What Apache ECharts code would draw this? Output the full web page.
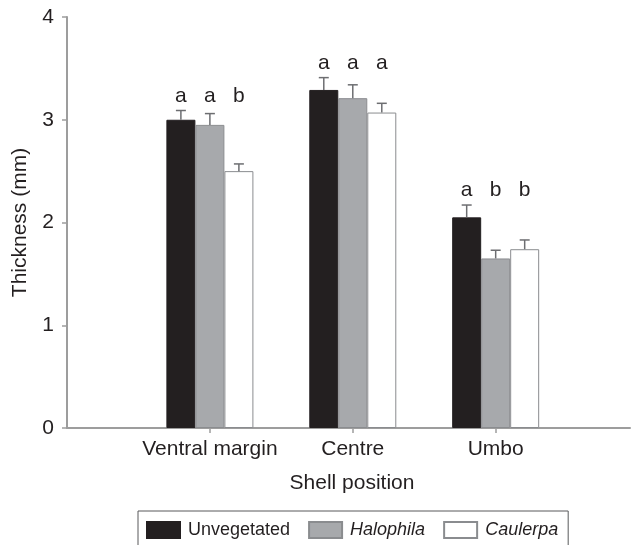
<!DOCTYPE html>
<html>
<head>
<meta charset="utf-8">
<script src="https://cdn.jsdelivr.net/npm/echarts@6/dist/echarts.min.js"></script>
<style>
  html, body { margin: 0; padding: 0; background: #ffffff; }
  #chart { width: 635px; height: 545px; }
</style>
</head>
<body>
<div id="chart"></div>
<script>
// Shell thickness by position and habitat (mean + SE)
const categories = ['Ventral margin', 'Centre', 'Umbo'];
const seriesNames = ['Unvegetated', 'Halophila', 'Caulerpa'];
const italicNames = ['Halophila', 'Caulerpa'];

const unvegetated   = [3.00, 3.29, 2.05];
const unvegetatedSE = [0.09, 0.12, 0.12];
const halophila     = [2.95, 3.21, 1.65];
const halophilaSE   = [0.11, 0.13, 0.08];
const caulerpa      = [2.50, 3.07, 1.74];
const caulerpaSE    = [0.07, 0.09, 0.09];

// Significance letters per bar
const unvegetatedLetters = ['a', 'a', 'a'];
const halophilaLetters   = ['a', 'a', 'b'];
const caulerpaLetters    = ['b', 'a', 'b'];

const yTicks = [0, 1, 2, 3, 4];

const means   = [unvegetated, halophila, caulerpa];
const errors  = [unvegetatedSE, halophilaSE, caulerpaSE];
const letters = [unvegetatedLetters, halophilaLetters, caulerpaLetters];

const FONT = "'Liberation Sans', Arial, Helvetica, sans-serif";
const TEXT = '#231f20';
const AXIS = '#9d9d9d';
const BAR_W = 29;

const fills   = ['#231f20', '#a7a9ac', '#ffffff'];
const borders = ['#231f20', '#8a8c8f', '#8a8c8f'];

const chart = echarts.init(document.getElementById('chart'), null, { renderer: 'canvas' });

const barSeries = seriesNames.map((name, s) => ({
  name: name,
  type: 'bar',
  barWidth: BAR_W,
  barGap: '0%',
  itemStyle: { color: fills[s], borderColor: borders[s], borderWidth: 1 },
  data: means[s].map((v, i) => [i + 1, v]),
  z: 2
}));

// one record per bar: [position, seriesIndex, mean, se, groupTop, letter]
const errData = [];
categories.forEach((c, i) => {
  const groupTop = Math.max(...means.map((m, s) => m[i] + errors[s][i]));
  means.forEach((m, s) => {
    errData.push([i + 1, s, m[i], errors[s][i], groupTop, letters[s][i]]);
  });
});

const errorSeries = {
  type: 'custom',
  silent: true,
  clip: false,
  encode: { x: 0, y: 2 },
  z: 5,
  data: errData,
  renderItem: function (params, api) {
    const x = api.value(0);
    const s = api.value(1);
    const mean = api.value(2);
    const se = api.value(3);
    const top = api.value(4);
    const letter = errData[params.dataIndex][5];
    const base = api.coord([x, mean]);
    const hi = api.coord([x, mean + se]);
    const gt = api.coord([x, top]);
    const cx = base[0] + (s - 1) * BAR_W;
    const style = { stroke: '#6d6e71', lineWidth: 1.5 };
    return {
      type: 'group',
      children: [
        { type: 'line', shape: { x1: cx, y1: base[1], x2: cx, y2: hi[1] }, style: style },
        { type: 'line', shape: { x1: cx - 5, y1: hi[1], x2: cx + 5, y2: hi[1] }, style: style },
        {
          type: 'text',
          style: {
            text: letter, x: cx, y: gt[1] - 4,
            align: 'center', verticalAlign: 'bottom',
            fontSize: 21, fontFamily: FONT, fill: TEXT
          }
        }
      ]
    };
  }
};

const option = {
  backgroundColor: '#ffffff',
  animation: false,
  grid: { left: 67, right: 5, top: 17, bottom: 117, containLabel: false },
  legend: {
    data: seriesNames,
    icon: 'rect',
    left: 138,
    top: 511,
    orient: 'horizontal',
    padding: [10, 10, 10, 8],
    itemWidth: 33,
    itemHeight: 16,
    itemGap: 18,
    borderColor: '#58595b',
    borderWidth: 1,
    borderRadius: 0,
    selectedMode: false,
    formatter: function (name) {
      return italicNames.indexOf(name) >= 0 ? '{i|' + name + '}' : name;
    },
    textStyle: {
      fontSize: 18, fontFamily: FONT, color: TEXT, padding: [0, 0, 0, 3],
      rich: { i: { fontSize: 18, fontFamily: FONT, color: TEXT, fontStyle: 'italic' } }
    }
  },
  xAxis: {
    type: 'value',
    min: 0,
    max: 3.94,
    interval: 1,
    name: 'Shell position',
    nameLocation: 'middle',
    nameGap: 45,
    nameTextStyle: { fontSize: 21, fontFamily: FONT, color: TEXT, padding: [0, 0, 0, 7] },
    axisLine: { show: true, onZero: false, lineStyle: { color: AXIS, width: 2 } },
    axisTick: { show: true, inside: false, length: 5, customValues: [1, 2, 3], lineStyle: { color: AXIS, width: 1.5 } },
    axisLabel: {
      customValues: [1, 2, 3],
      margin: 11,
      fontSize: 21, fontFamily: FONT, color: TEXT,
      formatter: function (v) { return categories[Math.round(v) - 1] || ''; }
    },
    splitLine: { show: false }
  },
  yAxis: {
    type: 'value',
    min: 0,
    max: 4,
    interval: 1,
    name: 'Thickness (mm)',
    nameLocation: 'middle',
    nameGap: 36,
    nameTextStyle: { fontSize: 21, fontFamily: FONT, color: TEXT },
    axisLine: { show: true, lineStyle: { color: AXIS, width: 2 } },
    axisTick: { show: true, inside: false, length: 5, lineStyle: { color: AXIS, width: 1.5 } },
    axisLabel: {
      margin: 13, fontSize: 21, fontFamily: FONT, color: TEXT,
      formatter: function (v) { return yTicks.indexOf(v) >= 0 ? String(v) : ''; }
    },
    splitLine: { show: false }
  },
  series: barSeries.concat([errorSeries])
};

chart.setOption(option);
</script>
</body>
</html>
